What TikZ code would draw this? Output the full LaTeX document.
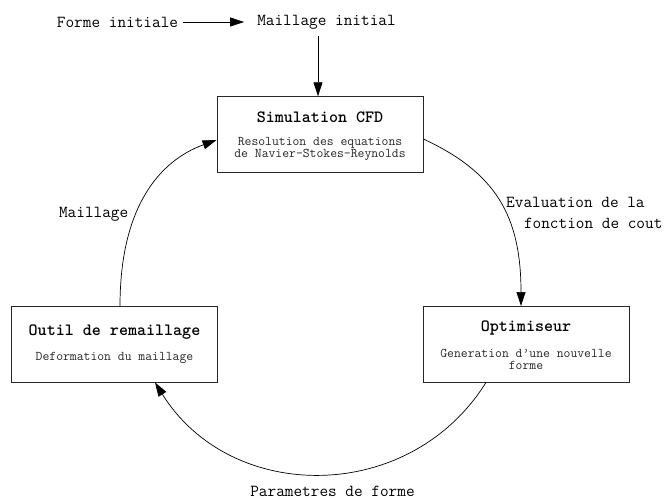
\documentclass[tikz,border=0pt]{standalone}
\usepackage{fontspec}
\usetikzlibrary{arrows.meta,calc}
\tikzset{
  label/.style={font=\ttfamily\fontsize{16.8}{19}\selectfont, inner sep=0pt},
  boxtitle/.style={font=\ttfamily\fontsize{17.2}{19}\selectfont\bfseries, inner sep=0pt},
  boxsub/.style={font=\ttfamily\fontsize{13.3}{12.5}\selectfont, align=center, inner sep=0pt, text=black!85},
  stagebox/.style={draw=black!85, line width=0.9pt, minimum width=206pt, minimum height=75.5pt, inner sep=0pt},
  flow/.style={line width=0.7pt, -{Triangle[length=14pt,width=9pt]}},
}
\begin{document}
\begin{tikzpicture}[x=1pt,y=1pt]
  \useasboundingbox (0,0) rectangle (671,-499);

  % top labels
  \node[label] (forme) at (117.5,-22) {Forme initiale};
  \node[label] (maillage) at (326.5,-22) {Maillage initial};

  % the three stages
  \node[stagebox] (cfd) at (320,-134.5) {};
  \node[boxtitle] (cfdt) at (320,-117.5) {Simulation CFD};
  \node[boxsub] (cfds) at (320,-149) {Resolution des equations\\de Navier-Stokes-Reynolds};

  \node[stagebox] (outil) at (114.5,-344.2) {};
  \node[boxtitle] (outilt) at (114.5,-332.5) {Outil de remaillage};
  \node[boxsub] (outils) at (114.5,-358.3) {Deformation du maillage};

  \node[stagebox] (opt) at (526,-344.2) {};
  \node[boxtitle] (optt) at (526,-327.5) {Optimiseur};
  \node[boxsub] (opts) at (526,-359.3) {Generation d’une nouvelle\\forme};

  % cycle labels
  \node[label, anchor=east] (lmaillage) at (128.5,-214) {Maillage};
  \node[label, align=left, anchor=west] (leval) at (506,-212.5)
    {Evaluation de la\\[2pt]\hspace*{17.8pt}fonction de cout};
  \node[label] (lparam) at (332.5,-491.5) {Parametres de forme};

  % connectors
  \draw[flow] ([xshift=5pt]forme.east) -- ([xshift=-13pt]maillage.west);
  \draw[flow] ([xshift=-8.5pt,yshift=-7pt]maillage.south) -- ([xshift=-2pt]cfd.north);

  \draw[flow] ([yshift=-4.5pt]cfd.east)
    .. controls +(72.5,-33.8) and +(0,90) .. ([xshift=-5pt]opt.north);
  \draw[flow] ([xshift=-40pt]opt.south)
    .. controls +(-76,-122) and +(76,-122) .. ([xshift=40.5pt]outil.south);
  \draw[flow] ([xshift=5.5pt]outil.north)
    .. controls +(0,100) and +(-56.4,-20.5) .. ([yshift=-5.5pt]cfd.west);
\end{tikzpicture}
\end{document}
